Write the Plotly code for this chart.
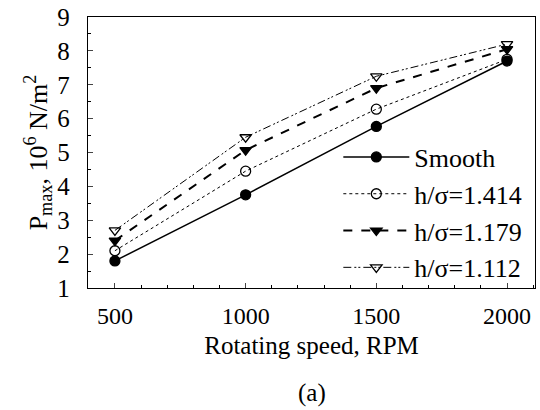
import plotly.graph_objects as go

speed = [500, 1000, 1500, 2000]
smooth = [1.8, 3.75, 5.77, 7.7]
h1414 = [2.1, 4.45, 6.28, 7.75]
h1179 = [2.4, 5.07, 6.9, 8.05]
h1112 = [2.7, 5.45, 7.25, 8.2]

names = ["Smooth", "h/σ=1.414", "h/σ=1.179", "h/σ=1.112"]
series = [smooth, h1414, h1179, h1112]
dashes = ["solid", "dot", "dash", "8px,3px,2px,2px,2px,3px"]
symbols = ["circle", "circle-open", "triangle-down", "triangle-down-open"]
widths = [1.5, 1, 2, 1]

SERIF = "Liberation Serif, Times New Roman, serif"

fig = go.Figure()
for n, s, d, sym, w in zip(names, series, dashes, symbols, widths):
    fig.add_trace(go.Scatter(
        x=speed, y=s, name=n, mode="lines+markers",
        line=dict(color="black", dash=d, width=w),
        marker=dict(symbol=sym, size=10, color="black", line=dict(color="black", width=1.3)),
    ))

fig.update_layout(
    width=540, height=410,
    margin=dict(l=88, r=4, t=14, b=122),
    plot_bgcolor="white", paper_bgcolor="white",
    font=dict(family=SERIF, color="black", size=22),
    showlegend=True,
    legend=dict(x=0.56, y=0.57, xanchor="left", yanchor="top",
                bgcolor="rgba(0,0,0,0)", font=dict(family=SERIF, size=26, color="black"),
                tracegroupgap=0, itemwidth=66),
    annotations=[dict(text="(a)", x=0.5, y=-0.33, xref="paper", yref="paper",
                      xanchor="center", yanchor="top", showarrow=False,
                      font=dict(family=SERIF, size=25, color="black"))],
)
fig.update_xaxes(range=[397, 2107], tickvals=speed, ticks="inside", ticklen=5,
                 tickfont=dict(family=SERIF, size=24), ticklabelstandoff=6,
                 showline=True, linecolor="black", linewidth=1.3, mirror=True,
                 showgrid=False, zeroline=False,
                 minor=dict(dtick=100, ticks="inside", ticklen=3, tickcolor="black"),
                 title=dict(text="Rotating speed, RPM", standoff=8, font=dict(family=SERIF, size=25)))
fig.update_yaxes(range=[1, 9], dtick=1, ticks="inside", ticklen=5,
                 tickfont=dict(family=SERIF, size=25), ticklabelstandoff=12,
                 showline=True, linecolor="black", linewidth=1.3, mirror=True,
                 showgrid=False, zeroline=False,
                 minor=dict(dtick=0.5, ticks="inside", ticklen=3, tickcolor="black"),
                 title=dict(text="P<sub>max</sub>, 10<sup>6</sup> N/m<sup>2</sup>", standoff=2,
                            font=dict(family=SERIF, size=26)))
fig.write_html("out.html")
